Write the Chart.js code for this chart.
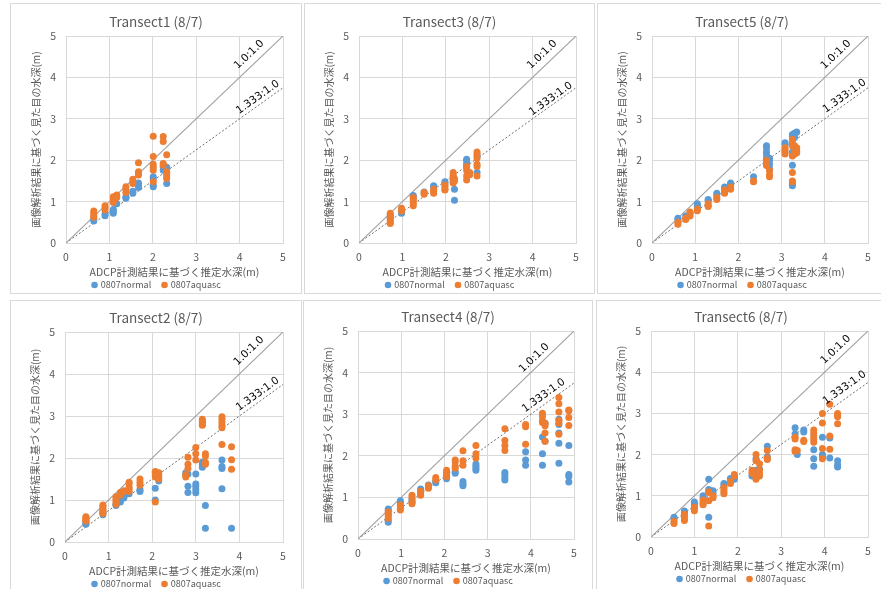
<!DOCTYPE html>
<html><head><meta charset="utf-8">
<script src="https://cdn.jsdelivr.net/npm/chart.js"></script>
<style>
html,body{margin:0;padding:0;background:#fff}
body{width:881px;height:589px;overflow:hidden;position:relative}
.box{position:absolute;border:1px solid #d9d9d9;box-sizing:border-box;pointer-events:none}
canvas{position:absolute}
</style></head><body>
<script>
// ---------- data ----------
const xAxisTitle = 'ADCP計測結果に基づく推定水深(m)';
const yAxisTitle = '画像解析結果に基づく見た目の水深(m)';
const seriesNames = ['0807normal', '0807aquasc'];
const tickLabels = ['0', '1', '2', '3', '4', '5'];
const refLabels = ['1.0:1.0', '1.333:1.0'];
const ref11 = [[0, 0], [5, 5]];
const ref1333 = [[0, 0], [5, 3.75]];
const panelTitles = ['Transect1 (8/7)', 'Transect3 (8/7)', 'Transect5 (8/7)', 'Transect2 (8/7)', 'Transect4 (8/7)', 'Transect6 (8/7)'];

const t1Normal = [[0.64,0.58],[0.64,0.53],[0.9,0.7],[0.9,0.66],[1.09,0.81],[1.09,0.76],[1.09,0.72],[1.17,0.95],[1.38,1.12],[1.38,1.08],[1.54,1.25],[1.54,1.2],[1.67,1.45],[1.67,1.4],[1.67,1.34],[2.01,1.6],[2.01,1.55],[2.01,1.4],[2.01,1.36],[2.24,1.84],[2.24,1.76],[2.32,1.83],[2.32,1.8],[2.32,1.44]];
const t1Aquasc = [[0.64,0.77],[0.64,0.72],[0.64,0.66],[0.64,0.62],[0.9,0.9],[0.9,0.85],[0.9,0.8],[1.09,1.12],[1.09,1.04],[1.09,0.98],[1.17,1.16],[1.17,1.1],[1.38,1.36],[1.38,1.3],[1.38,1.22],[1.54,1.54],[1.54,1.48],[1.54,1.44],[1.67,1.94],[1.67,1.72],[1.67,1.68],[1.67,1.64],[2.01,2.58],[2.01,2.09],[2.01,1.9],[2.01,1.83],[2.01,1.76],[2.01,1.48],[2.24,2.57],[2.24,2.45],[2.24,1.92],[2.24,1.88],[2.32,2.13],[2.32,1.72],[2.32,1.68],[2.32,1.62],[2.32,1.56]];

const t3Normal = [[0.72,0.65],[0.72,0.6],[0.98,0.75],[0.98,0.72],[1.25,1.15],[1.25,1.12],[1.5,1.23],[1.72,1.38],[1.72,1.35],[1.98,1.48],[1.98,1.45],[2.17,1.6],[2.17,1.55],[2.2,1.3],[2.2,1.03],[2.48,2.02],[2.48,1.98],[2.48,1.9],[2.48,1.85],[2.55,1.68],[2.72,2.1],[2.72,1.7]];
const t3Aquasc = [[0.72,0.72],[0.72,0.68],[0.72,0.62],[0.72,0.55],[0.72,0.5],[0.72,0.47],[0.98,0.84],[0.98,0.8],[0.98,0.77],[1.25,1.1],[1.25,1.05],[1.25,1.0],[1.25,0.95],[1.25,0.9],[1.5,1.22],[1.5,1.18],[1.72,1.3],[1.72,1.25],[1.72,1.2],[1.98,1.4],[1.98,1.35],[1.98,1.3],[1.98,1.28],[2.17,1.7],[2.17,1.65],[2.17,1.58],[2.17,1.52],[2.17,1.48],[2.17,1.45],[2.2,1.55],[2.2,1.5],[2.48,1.85],[2.48,1.75],[2.48,1.62],[2.48,1.52],[2.55,1.7],[2.55,1.65],[2.72,2.2],[2.72,2.15],[2.72,2.05],[2.72,1.9],[2.72,1.85],[2.72,1.62]];

const t5Normal = [[0.6,0.6],[0.6,0.57],[0.78,0.65],[0.88,0.72],[1.05,0.95],[1.05,0.9],[1.05,0.85],[1.3,1.05],[1.3,1.02],[1.5,1.2],[1.5,1.15],[1.68,1.35],[1.68,1.32],[1.82,1.45],[1.82,1.42],[2.35,1.6],[2.65,2.35],[2.65,2.3],[2.65,2.2],[2.65,2.15],[2.65,2.05],[2.72,2.05],[2.72,2.0],[2.72,1.9],[2.72,1.8],[3.08,2.42],[3.08,2.38],[3.25,2.62],[3.25,2.58],[3.25,2.2],[3.25,1.88],[3.25,1.42],[3.25,1.38],[3.3,2.65],[3.3,2.6],[3.3,2.55],[3.35,2.68]];
const t5Aquasc = [[0.6,0.5],[0.6,0.45],[0.78,0.6],[0.78,0.57],[0.88,0.75],[0.88,0.7],[0.88,0.65],[1.05,0.82],[1.05,0.78],[1.3,0.95],[1.3,0.9],[1.3,0.88],[1.5,1.1],[1.5,1.05],[1.68,1.28],[1.68,1.22],[1.68,1.2],[1.82,1.35],[1.82,1.3],[2.35,1.5],[2.35,1.48],[2.65,2.0],[2.65,1.92],[2.65,1.87],[2.72,1.75],[2.72,1.65],[2.72,1.6],[3.08,2.3],[3.08,2.25],[3.08,2.2],[3.08,2.15],[3.25,2.5],[3.25,2.42],[3.25,2.35],[3.25,2.1],[3.25,1.7],[3.25,1.5],[3.25,1.48],[3.3,2.35],[3.3,2.25],[3.3,2.2],[3.3,2.15],[3.35,2.3],[3.35,2.22],[3.35,2.18]];

const t2Normal = [[0.48,0.48],[0.48,0.45],[0.48,0.42],[0.87,0.7],[0.87,0.65],[1.17,0.9],[1.17,0.87],[1.27,1.0],[1.27,0.95],[1.35,1.1],[1.35,1.05],[1.47,1.15],[1.72,1.25],[1.72,1.2],[2.07,1.28],[2.07,1.0],[2.15,1.45],[2.77,1.65],[2.77,1.6],[2.82,1.62],[2.82,1.33],[2.82,1.18],[3.0,1.62],[3.0,1.38],[3.0,1.33],[3.0,1.25],[3.0,1.17],[3.15,1.9],[3.15,1.85],[3.15,1.78],[3.22,0.87],[3.22,0.33],[3.6,1.95],[3.6,1.8],[3.6,1.75],[3.6,1.27],[3.82,0.33]];
const t2Aquasc = [[0.48,0.6],[0.48,0.58],[0.48,0.55],[0.48,0.52],[0.48,0.5],[0.87,0.88],[0.87,0.85],[0.87,0.8],[0.87,0.75],[0.87,0.72],[0.87,0.68],[1.17,1.08],[1.17,1.05],[1.17,1.0],[1.17,0.95],[1.17,0.9],[1.27,1.18],[1.27,1.15],[1.27,1.12],[1.35,1.22],[1.35,1.2],[1.47,1.42],[1.47,1.38],[1.47,1.3],[1.47,1.25],[1.47,1.2],[1.72,1.5],[1.72,1.42],[1.72,1.35],[2.07,1.68],[2.07,1.65],[2.07,1.6],[2.07,1.55],[2.07,0.95],[2.15,1.65],[2.15,1.6],[2.15,1.55],[2.15,1.5],[2.77,1.6],[2.77,1.55],[2.82,2.02],[2.82,1.85],[2.82,1.75],[3.0,2.25],[3.0,2.1],[3.0,1.95],[3.15,2.92],[3.15,2.88],[3.15,2.85],[3.15,2.8],[3.15,2.78],[3.22,2.1],[3.22,2.05],[3.22,1.9],[3.22,1.85],[3.6,2.98],[3.6,2.92],[3.6,2.85],[3.6,2.78],[3.6,2.72],[3.6,2.32],[3.82,2.27],[3.82,1.96],[3.82,1.73]];

const t4Normal = [[0.7,0.72],[0.7,0.68],[0.7,0.45],[0.7,0.4],[0.98,0.92],[0.98,0.88],[1.25,0.95],[1.25,0.9],[1.45,1.2],[1.45,1.15],[1.63,1.3],[1.63,1.25],[1.8,1.38],[1.8,1.35],[2.05,1.5],[2.05,1.45],[2.25,1.62],[2.25,1.58],[2.43,1.38],[2.43,1.32],[2.43,1.28],[2.73,1.8],[2.73,1.75],[2.73,1.7],[2.73,1.65],[3.4,1.6],[3.4,1.55],[3.4,1.48],[3.4,1.42],[3.88,2.1],[3.88,1.9],[3.88,1.77],[4.27,2.45],[4.27,2.05],[4.27,1.77],[4.33,2.78],[4.33,2.35],[4.65,2.88],[4.65,2.75],[4.65,2.55],[4.65,2.3],[4.65,1.82],[4.88,2.25],[4.88,1.55],[4.88,1.5],[4.88,1.37]];
const t4Aquasc = [[0.7,0.65],[0.7,0.6],[0.7,0.55],[0.7,0.5],[0.98,0.82],[0.98,0.78],[0.98,0.73],[0.98,0.7],[1.25,1.05],[1.25,1.0],[1.25,0.88],[1.25,0.85],[1.45,1.15],[1.45,1.1],[1.45,1.05],[1.63,1.28],[1.63,1.22],[1.8,1.48],[1.8,1.42],[2.05,1.65],[2.05,1.6],[2.05,1.55],[2.05,1.5],[2.25,1.9],[2.25,1.85],[2.25,1.75],[2.25,1.7],[2.43,2.12],[2.43,1.88],[2.43,1.77],[2.73,2.25],[2.73,2.05],[2.73,1.95],[3.4,2.65],[3.4,2.37],[3.4,2.25],[3.4,2.13],[3.88,2.75],[3.88,2.7],[3.88,2.28],[4.27,3.02],[4.27,2.95],[4.27,2.85],[4.27,2.8],[4.33,2.78],[4.33,2.72],[4.33,2.55],[4.33,2.35],[4.65,3.4],[4.65,3.25],[4.65,3.05],[4.65,2.85],[4.65,2.78],[4.65,2.52],[4.88,3.1],[4.88,3.08],[4.88,2.92],[4.88,2.73]];

const t6Normal = [[0.53,0.48],[0.53,0.45],[0.77,0.63],[0.77,0.6],[1.0,0.85],[1.0,0.8],[1.0,0.75],[1.2,1.0],[1.2,0.95],[1.33,1.4],[1.33,1.15],[1.33,0.48],[1.43,1.12],[1.43,1.05],[1.68,1.3],[1.68,1.25],[1.83,1.42],[1.83,1.38],[1.92,1.45],[1.92,1.4],[2.33,1.5],[2.33,1.48],[2.42,1.9],[2.42,1.62],[2.5,1.65],[2.68,2.2],[2.68,1.95],[2.68,1.9],[3.32,2.65],[3.32,2.5],[3.37,2.0],[3.52,2.6],[3.52,2.55],[3.75,2.12],[3.75,1.9],[3.75,1.72],[3.95,2.42],[3.95,2.0],[3.95,1.95],[4.12,2.4],[4.12,1.92],[4.3,1.85],[4.3,1.75],[4.3,1.7]];
const t6Aquasc = [[0.53,0.38],[0.53,0.33],[0.77,0.55],[0.77,0.5],[0.77,0.45],[0.77,0.4],[1.0,0.72],[1.0,0.68],[1.0,0.64],[1.2,0.9],[1.2,0.85],[1.2,0.8],[1.2,0.78],[1.33,1.1],[1.33,1.08],[1.33,0.88],[1.33,0.27],[1.43,1.0],[1.43,0.95],[1.68,1.2],[1.68,1.15],[1.68,1.1],[1.68,1.05],[1.83,1.35],[1.83,1.3],[1.92,1.52],[1.92,1.48],[2.33,1.62],[2.33,1.58],[2.33,1.55],[2.42,2.0],[2.42,1.85],[2.42,1.45],[2.42,1.4],[2.5,1.78],[2.5,1.62],[2.5,1.55],[2.5,1.48],[2.68,2.1],[2.68,1.92],[2.68,1.88],[3.32,2.42],[3.32,2.38],[3.32,2.12],[3.32,2.08],[3.37,2.1],[3.52,2.35],[3.52,2.32],[3.75,2.6],[3.75,2.52],[3.75,2.45],[3.75,2.38],[3.75,2.3],[3.95,3.0],[3.95,2.77],[3.95,2.15],[3.95,1.9],[4.12,3.22],[4.12,2.45],[4.12,2.13],[4.3,3.0],[4.3,2.95],[4.3,2.92],[4.3,2.75]];

// ---------- layout / style ----------
const FONT = "'Noto Sans CJK JP', 'Noto Sans', sans-serif";
const GRAY = '#595959';
const BLUE = '#5B9BD5';
const ORANGE = '#ED7D31';
const YAXIS_W = 41, XAXIS_H = 36;

const panels = [
  {title: panelTitles[0], normal: t1Normal, aquasc: t1Aquasc, box:{l:10,t:3,w:292,h:291},  plot:{l:66,t:36,r:283,b:243},  lab:[[4.22,4.55],[4.42,3.52]]},
  {title: panelTitles[1], normal: t3Normal, aquasc: t3Aquasc, box:{l:304,t:3,w:291,h:291}, plot:{l:359,t:36,r:576,b:243}, lab:[[4.22,4.55],[4.42,3.48]]},
  {title: panelTitles[2], normal: t5Normal, aquasc: t5Aquasc, box:{l:597,t:3,w:290,h:291}, plot:{l:652,t:36,r:868,b:243}, lab:[[4.26,4.55],[4.46,3.55]]},
  {title: panelTitles[3], normal: t2Normal, aquasc: t2Aquasc, box:{l:10,t:300,w:292,h:295}, plot:{l:65,t:332,r:283,b:542}, lab:[[4.22,4.55],[4.42,3.52]]},
  {title: panelTitles[4], normal: t4Normal, aquasc: t4Aquasc, box:{l:303,t:300,w:290,h:295},plot:{l:358,t:331,r:574,b:539}, lab:[[4.08,4.35],[4.3,3.45]]},
  {title: panelTitles[5], normal: t6Normal, aquasc: t6Aquasc, box:{l:596,t:300,w:290,h:295},plot:{l:651,t:331,r:868,b:537}, lab:[[4.26,4.55],[4.46,3.62]]}
];

const toXY = arr => arr.map(p => ({x: p[0], y: p[1]}));

const decorPlugin = {
  id: 'decor',
  afterDatasetsDraw(chart) {
    const ctx = chart.ctx;
    const xs = chart.scales.x, ys = chart.scales.y;
    const cfg = chart.options.plugins.decor;
    const refs = [ref11, ref1333];
    ctx.save();
    ctx.fillStyle = '#000';
    ctx.font = "10.5px 'DejaVu Sans', sans-serif";
    ctx.textAlign = 'center';
    ctx.textBaseline = 'middle';
    refs.forEach((ln, i) => {
      const x0 = xs.getPixelForValue(ln[0][0]), y0 = ys.getPixelForValue(ln[0][1]);
      const x1 = xs.getPixelForValue(ln[1][0]), y1 = ys.getPixelForValue(ln[1][1]);
      const ang = Math.atan2(y1 - y0, x1 - x0);
      const px = xs.getPixelForValue(cfg.lab[i][0]), py = ys.getPixelForValue(cfg.lab[i][1]);
      ctx.save();
      ctx.translate(px, py);
      ctx.rotate(ang);
      ctx.fillText(refLabels[i], 0, 0);
      ctx.restore();
    });
    ctx.restore();
  },
  afterDraw(chart) {
    const ctx = chart.ctx;
    const cfg = chart.options.plugins.decor;
    const area = chart.chartArea;
    const cx = chart.width / 2;
    ctx.save();
    ctx.fillStyle = GRAY;
    ctx.font = "13.5px " + FONT;
    ctx.textAlign = 'center';
    ctx.textBaseline = 'middle';
    ctx.fillText(cfg.title, cx, area.top - 14.5);
    ctx.font = "9px " + FONT;
    const r = 3.3, gapIn = 3, gapOut = 10;
    const w0 = ctx.measureText(seriesNames[0]).width;
    const w1 = ctx.measureText(seriesNames[1]).width;
    const total = 2 * r + gapIn + w0 + gapOut + 2 * r + gapIn + w1;
    let x = cx - total / 2;
    const ly = area.bottom + 42;
    const cols = [BLUE, ORANGE];
    const ws = [w0, w1];
    ctx.textAlign = 'left';
    for (let i = 0; i < 2; i++) {
      ctx.fillStyle = cols[i];
      ctx.beginPath();
      ctx.arc(x + r, ly, r, 0, Math.PI * 2);
      ctx.fill();
      x += 2 * r + gapIn;
      ctx.fillStyle = GRAY;
      ctx.fillText(seriesNames[i], x, ly);
      x += ws[i] + gapOut;
    }
    ctx.restore();
  }
};

panels.forEach(p => {
  const c = document.createElement('canvas');
  c.width = p.box.w; c.height = p.box.h;
  c.style.left = p.box.l + 'px'; c.style.top = p.box.t + 'px';
  c.style.width = p.box.w + 'px'; c.style.height = p.box.h + 'px';
  document.body.appendChild(c);
  const b = document.createElement('div');
  b.className = 'box';
  b.style.left = p.box.l + 'px'; b.style.top = p.box.t + 'px';
  b.style.width = p.box.w + 'px'; b.style.height = p.box.h + 'px';
  document.body.appendChild(b);

  const pad = {
    left: p.plot.l - p.box.l - YAXIS_W,
    top: p.plot.t - p.box.t,
    right: p.box.l + p.box.w - p.plot.r,
    bottom: p.box.t + p.box.h - p.plot.b - XAXIS_H
  };

  const axisCommon = {
    type: 'linear', min: 0, max: 5,
    grid: {color: '#d9d9d9', drawTicks: false, lineWidth: 1},
    border: {color: '#d9d9d9'},
    ticks: {stepSize: 1, color: GRAY, font: {family: FONT, size: 10.5}, callback: v => tickLabels[v]}
  };

  new Chart(c, {
    type: 'scatter',
    data: {
      datasets: [
        {label: seriesNames[0], data: toXY(p.normal), backgroundColor: BLUE, borderWidth: 0, pointRadius: 3.5, pointHoverRadius: 3.5, order: 2},
        {label: seriesNames[1], data: toXY(p.aquasc), backgroundColor: ORANGE, borderWidth: 0, pointRadius: 3.5, pointHoverRadius: 3.5, order: 1},
        {type: 'line', label: refLabels[0], data: toXY(ref11), borderColor: '#a0a0a0', borderWidth: 1.1, pointRadius: 0, fill: false, order: 10},
        {type: 'line', label: refLabels[1], data: toXY(ref1333), borderColor: '#6e6e6e', borderWidth: 1, borderDash: [2, 2], pointRadius: 0, fill: false, order: 11}
      ]
    },
    options: {
      responsive: false, animation: false, devicePixelRatio: 1,
      layout: {padding: pad},
      plugins: {
        legend: {display: false}, title: {display: false}, tooltip: {enabled: false},
        decor: {title: p.title, lab: p.lab}
      },
      scales: {
        x: Object.assign({}, axisCommon, {
          position: 'bottom',
          ticks: Object.assign({}, axisCommon.ticks, {padding: 8}),
          title: {display: true, text: xAxisTitle, color: GRAY, font: {family: FONT, size: 10.5, lineHeight: 1.2}, padding: {top: 0, bottom: 1}},
          afterFit: s => { s.height = XAXIS_H; }
        }),
        y: Object.assign({}, axisCommon, {
          position: 'left',
          ticks: Object.assign({}, axisCommon.ticks, {padding: 10}),
          title: {display: true, text: yAxisTitle, color: GRAY, font: {family: FONT, size: 10, lineHeight: 1.2}, padding: {top: 5, bottom: 0}},
          afterFit: s => { s.width = YAXIS_W; }
        })
      }
    },
    plugins: [decorPlugin]
  });
});
</script>
</body></html>
